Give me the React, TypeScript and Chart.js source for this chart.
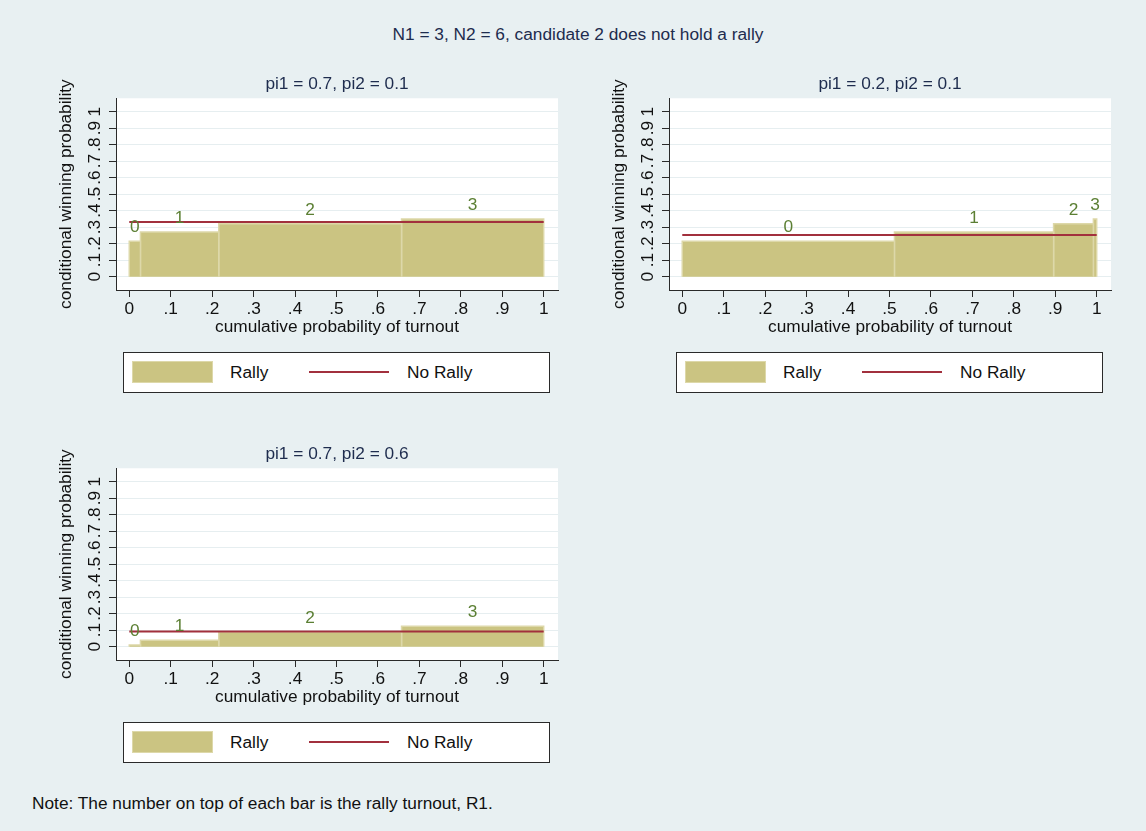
import React, { useEffect, useRef } from "react";
import { Chart, registerables } from "chart.js";

Chart.register(...registerables);

const FONT = '"Liberation Sans", Arial, Helvetica, sans-serif';
const FS = 17.3;
const NAVY = "#1e2c4e";
const INK = "#111111";
const AXIS = "#2a2a2a";
const GRID = "#e6eef0";
const KHAKI = "#cbc482";
const KHAKI_EDGE = "#ddd8a9";
const MAROON = "#a2303d";
const GREEN = "#5b7f33";
const BG = "#e8f0f2";

// Text
const mainTitle = "N1 = 3, N2 = 6, candidate 2 does not hold a rally";
const noteText = "Note: The number on top of each bar is the rally turnout, R1.";
const xAxisTitle = "cumulative probability of turnout";
const yAxisTitle = "conditional winning probability";
const rallyLabel = "Rally";
const noRallyLabel = "No Rally";

// Shared axis ticks (both axes run 0..1 in steps of .1)
const tickValues = [0, 0.1, 0.2, 0.3, 0.4, 0.5, 0.6, 0.7, 0.8, 0.9, 1];
const tickLabels = ["0", ".1", ".2", ".3", ".4", ".5", ".6", ".7", ".8", ".9", "1"];

// Rally turnout R1 printed above each bar
const rallyTurnout = ["0", "1", "2", "3"];

// Panel A: pi1 = 0.7, pi2 = 0.1
const titleA = "pi1 = 0.7, pi2 = 0.1";
const cumTurnoutA = [0, 0.027, 0.216, 0.657, 1];
const winRallyA = [0.215, 0.271, 0.321, 0.35];
const winNoRallyA = 0.331;

// Panel B: pi1 = 0.2, pi2 = 0.1
const titleB = "pi1 = 0.2, pi2 = 0.1";
const cumTurnoutB = [0, 0.512, 0.896, 0.992, 1];
const winRallyB = [0.215, 0.271, 0.321, 0.35];
const winNoRallyB = 0.253;

// Panel C: pi1 = 0.7, pi2 = 0.6
const titleC = "pi1 = 0.7, pi2 = 0.6";
const cumTurnoutC = [0, 0.027, 0.216, 0.657, 1];
const winRallyC = [0.01, 0.038, 0.089, 0.123];
const winNoRallyC = 0.091;

const CANVAS_W = 530;
const CANVAS_H = 278;

const plotBackground = {
  id: "plotBackground",
  beforeDraw(chart: any) {
    const { ctx, chartArea } = chart;
    ctx.save();
    ctx.fillStyle = "#ffffff";
    ctx.fillRect(chartArea.left, chartArea.top, chartArea.right - chartArea.left, chartArea.bottom - chartArea.top);
    ctx.restore();
  },
};

function makeBarLabels(edges: number[], heights: number[]) {
  return {
    id: "barLabels",
    afterDatasetsDraw(chart: any) {
      const { ctx, scales } = chart;
      ctx.save();
      ctx.font = `${FS}px ${FONT}`;
      ctx.fillStyle = GREEN;
      ctx.textAlign = "center";
      ctx.textBaseline = "alphabetic";
      heights.forEach((h, i) => {
        const xm = scales.x.getPixelForValue((edges[i] + edges[i + 1]) / 2);
        const yt = scales.y.getPixelForValue(h);
        ctx.fillText(rallyTurnout[i], xm, yt - 9);
      });
      ctx.restore();
    },
  };
}

type PanelProps = {
  title: string;
  edges: number[];
  heights: number[];
  noRally: number;
  left: number;
  top: number;
};

function Panel({ title, edges, heights, noRally, left, top }: PanelProps) {
  const ref = useRef<HTMLCanvasElement | null>(null);

  useEffect(() => {
    if (!ref.current) return;
    const font = { family: FONT, size: FS, weight: "normal" as const };
    const datasets: any[] = [
      {
        label: noRallyLabel,
        data: [
          { x: 0, y: noRally },
          { x: 1, y: noRally },
        ],
        borderColor: MAROON,
        borderWidth: 2,
        pointRadius: 0,
        fill: false,
      },
      ...heights.map((h, i) => ({
        label: rallyLabel,
        data: [
          { x: edges[i], y: 0 },
          { x: edges[i], y: h },
          { x: edges[i + 1], y: h },
          { x: edges[i + 1], y: 0 },
        ],
        borderColor: KHAKI_EDGE,
        borderWidth: 1.5,
        backgroundColor: KHAKI,
        fill: "origin",
        pointRadius: 0,
        tension: 0,
      })),
    ];

    const chart = new Chart(ref.current, {
      type: "line",
      data: { datasets },
      plugins: [plotBackground, makeBarLabels(edges, heights)],
      options: {
        responsive: false,
        animation: false,
        devicePixelRatio: 1,
        layout: { padding: { left: 0, right: 12, top: 0, bottom: 0 } },
        plugins: {
          legend: { display: false },
          tooltip: { enabled: false },
          title: {
            display: true,
            fullSize: false,
            text: title,
            color: NAVY,
            font,
            padding: { top: 3.6, bottom: 3.9 },
          },
        },
        scales: {
          x: {
            type: "linear",
            min: -0.032,
            max: 1.0345,
            afterBuildTicks: (s: any) => {
              s.ticks = tickValues.map((v) => ({ value: v }));
            },
            afterFit: (s: any) => {
              s.height = 58;
            },
            ticks: {
              autoSkip: false,
              minRotation: 0,
              maxRotation: 0,
              padding: 1.8,
              color: INK,
              font,
              callback: (_v: any, i: number) => tickLabels[i],
            },
            grid: {
              drawOnChartArea: false,
              drawTicks: true,
              tickLength: 7,
              tickColor: AXIS,
            },
            border: { display: true, color: AXIS, width: 1 },
            title: {
              display: true,
              text: xAxisTitle,
              color: INK,
              font,
              padding: { top: 0, bottom: 10.4 },
            },
          },
          y: {
            type: "linear",
            min: -0.081,
            max: 1.081,
            afterBuildTicks: (s: any) => {
              s.ticks = tickValues.map((v) => ({ value: v }));
            },
            afterFit: (s: any) => {
              s.width = 76;
            },
            ticks: {
              autoSkip: false,
              minRotation: 90,
              maxRotation: 90,
              crossAlign: "center",
              padding: 6.7,
              color: INK,
              font,
              callback: (_v: any, i: number) => tickLabels[i],
            },
            grid: {
              color: GRID,
              lineWidth: 1,
              drawTicks: true,
              tickLength: 7,
              tickColor: AXIS,
            },
            border: { display: true, color: AXIS, width: 1 },
            title: {
              display: true,
              text: yAxisTitle,
              color: INK,
              font,
              padding: { top: 16.1, bottom: 0 },
            },
          },
        },
      } as any,
    });
    return () => chart.destroy();
  }, [title, edges, heights, noRally]);

  return (
    <canvas
      ref={ref}
      width={CANVAS_W}
      height={CANVAS_H}
      style={{ position: "absolute", left, top, width: CANVAS_W, height: CANVAS_H }}
    />
  );
}

function Legend({ left, top }: { left: number; top: number }) {
  const text: React.CSSProperties = {
    position: "absolute",
    top: 9,
    fontSize: FS,
    lineHeight: "20px",
    color: INK,
    whiteSpace: "nowrap",
  };
  return (
    <div
      style={{
        position: "absolute",
        left,
        top,
        width: 427,
        height: 41,
        boxSizing: "border-box",
        border: `1px solid ${AXIS}`,
        background: "#ffffff",
      }}
    >
      <div
        style={{
          position: "absolute",
          left: 8,
          top: 8,
          width: 81,
          height: 22,
          boxSizing: "border-box",
          background: KHAKI,
          border: `1.5px solid ${KHAKI_EDGE}`,
        }}
      />
      <div style={{ ...text, left: 106 }}>{rallyLabel}</div>
      <div
        style={{
          position: "absolute",
          left: 185,
          top: 18,
          width: 80,
          height: 2,
          background: MAROON,
        }}
      />
      <div style={{ ...text, left: 283 }}>{noRallyLabel}</div>
    </div>
  );
}

export default function App() {
  return (
    <div
      style={{
        position: "absolute",
        left: 0,
        top: 0,
        width: 1146,
        height: 831,
        background: BG,
        overflow: "hidden",
        fontFamily: FONT,
      }}
    >
      <div
        style={{
          position: "absolute",
          left: 10,
          width: 1136,
          top: 24.4,
          textAlign: "center",
          fontSize: FS,
          lineHeight: "20px",
          color: NAVY,
          whiteSpace: "nowrap",
        }}
      >
        {mainTitle}
      </div>

      <Panel title={titleA} edges={cumTurnoutA} heights={winRallyA} noRally={winNoRallyA} left={40} top={70} />
      <Panel title={titleB} edges={cumTurnoutB} heights={winRallyB} noRally={winNoRallyB} left={593} top={70} />
      <Panel title={titleC} edges={cumTurnoutC} heights={winRallyC} noRally={winNoRallyC} left={40} top={440} />

      <Legend left={123} top={352} />
      <Legend left={676} top={352} />
      <Legend left={123} top={722} />

      <div
        style={{
          position: "absolute",
          left: 32,
          top: 793,
          fontSize: FS,
          lineHeight: "20px",
          color: INK,
          whiteSpace: "nowrap",
        }}
      >
        {noteText}
      </div>
    </div>
  );
}
